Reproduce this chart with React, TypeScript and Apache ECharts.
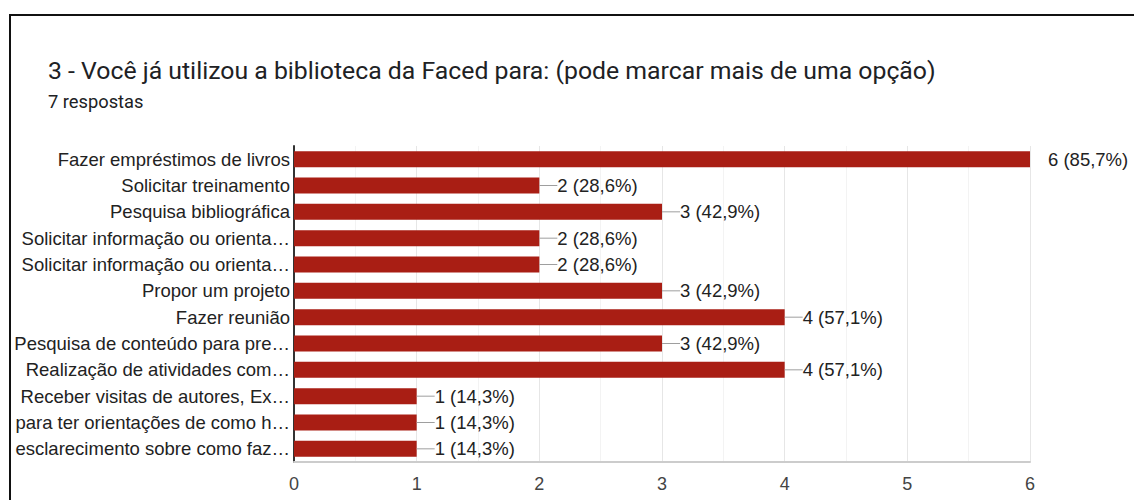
import React, { useEffect, useRef } from "react";
import * as echarts from "echarts";

const TITLE = "3 - Você já utilizou a biblioteca da Faced para: (pode marcar mais de uma opção)";
const SUBTITLE = "7 respostas";
const TOTAL = 7;
const categories = [
  "Fazer empréstimos de livros",
  "Solicitar treinamento",
  "Pesquisa bibliográfica",
  "Solicitar informação ou orienta…",
  "Solicitar informação ou orienta…",
  "Propor um projeto",
  "Fazer reunião",
  "Pesquisa de conteúdo para pre…",
  "Realização de atividades com…",
  "Receber visitas de autores, Ex…",
  "para ter orientações de como h…",
  "esclarecimento sobre como faz…",
];
const counts = [6, 2, 3, 2, 2, 3, 4, 3, 4, 1, 1, 1];
const xTicks = [0, 1, 2, 3, 4, 5, 6];

const FONT = "'Liberation Sans', Arial, sans-serif";

export default function App() {
  const ref = useRef<HTMLDivElement>(null);
  useEffect(() => {
    if (!ref.current) return;
    const chart = echarts.init(ref.current, null, { renderer: "svg" });
    const maxV = xTicks[xTicks.length - 1];
    const data = counts.map((v) => ({
      value: v,
      label: {
        rich: {
          l: {
            width: 18,
            height: 1,
            backgroundColor: v === maxV ? "transparent" : "#9e9e9e",
            verticalAlign: "middle",
          },
          t: {
            fontSize: 18.5,
            color: "#222222",
            fontFamily: FONT,
            verticalAlign: "middle",
          },
        },
      },
    }));
    chart.setOption({
      animation: false,
      backgroundColor: "#ffffff",
      grid: { left: 294, right: 104, top: 146, bottom: 38, containLabel: false },
      xAxis: {
        type: "value",
        min: 0,
        max: maxV,
        interval: 1,
        axisLine: { show: true, lineStyle: { color: "#cccccc", width: 2 } },
        axisTick: { show: false },
        axisLabel: {
          fontSize: 18,
          color: "#444444",
          margin: 13,
          fontFamily: FONT,
        },
        splitLine: { show: true, lineStyle: { color: "#e6e6e6", width: 1 } },
        minorTick: { show: false, splitNumber: 2 },
        minorSplitLine: { show: true, lineStyle: { color: "#f3f3f3", width: 1 } },
      },
      yAxis: {
        type: "category",
        data: categories,
        inverse: true,
        axisLine: { show: true, lineStyle: { color: "#333333", width: 2 } },
        axisTick: { show: false },
        axisLabel: {
          fontSize: 18.5,
          color: "#222222",
          margin: 4,
          fontFamily: FONT,
        },
        splitLine: { show: false },
      },
      graphic: [
        { type: "line", shape: { x1: 9, y1: 15, x2: 1134, y2: 15 }, style: { stroke: "#111111", lineWidth: 2 } },
        { type: "line", shape: { x1: 10, y1: 14, x2: 10, y2: 500 }, style: { stroke: "#111111", lineWidth: 2 } },
        {
          type: "text",
          left: 48,
          top: 58,
          style: { text: TITLE, fontSize: 24.8, fill: "#202124", fontFamily: "Roboto, sans-serif" },
        },
        {
          type: "text",
          left: 48,
          top: 92,
          style: { text: SUBTITLE, fontSize: 18.3, fill: "#202124", fontFamily: "Roboto, sans-serif" },
        },
      ],
      series: [
        {
          type: "bar",
          data,
          barWidth: 16,
          itemStyle: { color: "#a91e14" },
          label: {
            show: true,
            position: "right",
            distance: 0,
            formatter: (p: any) =>
              `{l|}{t|${p.value} (${((p.value / TOTAL) * 100).toFixed(1).replace(".", ",")}%)}`,
          },
        },
      ],
    });
    return () => chart.dispose();
  }, []);
  return (
    <div
      ref={ref}
      style={{ position: "fixed", left: 0, top: 0, width: 1134, height: 500, background: "#fff" }}
    />
  );
}
